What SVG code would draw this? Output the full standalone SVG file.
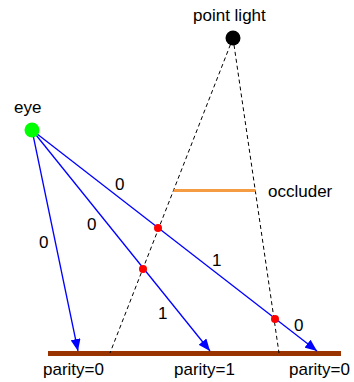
<svg xmlns="http://www.w3.org/2000/svg" width="354" height="382" viewBox="0 0 354 382">
<style>
text{font-family:"Liberation Sans",Arial,sans-serif;font-size:17px;fill:#000}
.ray{stroke:#0000FF;stroke-width:1.3;fill:none}
.shadow{stroke:#000;stroke-width:1;stroke-dasharray:4,3;fill:none}
.hit{fill:#FF0000}
</style>
<defs>
<marker id="arr" viewBox="0 0 12 10" refX="12" refY="5" markerWidth="12" markerHeight="10" markerUnits="userSpaceOnUse" orient="auto">
<path d="M0,0 L12,5 L0,10 Z" fill="#0000FF"/>
</marker>
</defs>
<g id="floor">
<line x1="48" y1="353.5" x2="341" y2="353.5" stroke="#993300" stroke-width="5"/>
</g>
<g id="connectors">
<line class="shadow" x1="233" y1="38" x2="110" y2="353"/>
<line class="shadow" x1="233" y1="38" x2="279" y2="353"/>
<line class="ray" x1="32" y1="130" x2="78" y2="351" marker-end="url(#arr)"/>
<line class="ray" x1="32" y1="130" x2="210" y2="351" marker-end="url(#arr)"/>
<line class="ray" x1="32" y1="130" x2="317" y2="351" marker-end="url(#arr)"/>
</g>
<g id="occluder">
<line x1="173.6" y1="190.5" x2="255.5" y2="190.5" stroke="#F59B42" stroke-width="3"/>
<text x="268" y="197">occluder</text>
</g>
<g id="eye">
<circle cx="32" cy="130" r="7.5" fill="#00FF00"/>
<text x="14" y="113">eye</text>
</g>
<g id="light">
<circle cx="233" cy="38" r="7.5" fill="#000"/>
<text x="193" y="21">point light</text>
</g>
<g id="hits">
<circle class="hit" cx="158" cy="228" r="4"/>
<circle class="hit" cx="143" cy="269" r="4"/>
<circle class="hit" cx="275" cy="319" r="4"/>
</g>
<g id="labels">
<text x="115" y="190">0</text>
<text x="39" y="248">0</text>
<text x="87" y="230">0</text>
<text x="158" y="319">1</text>
<text x="212" y="266">1</text>
<text x="294" y="331">0</text>
<text x="43" y="375">parity=0</text>
<text x="174" y="375">parity=1</text>
<text x="289" y="375">parity=0</text>
</g>
</svg>
